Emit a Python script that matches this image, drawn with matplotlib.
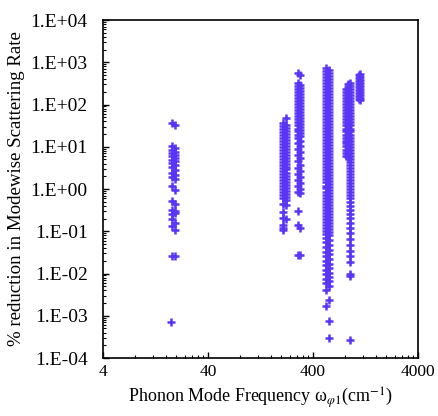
import numpy as np
import matplotlib
matplotlib.use("Agg")
from matplotlib import pyplot as plt
from matplotlib.ticker import FixedLocator, LogLocator, FuncFormatter, NullFormatter

# phonon mode clusters: (frequency in cm^-1, % reduction values)
c1a_freq = 18.3
c1a_y = [36, 10.5, 8.5, 7.0, 5.9, 4.9, 4.1, 3.4, 2.4, 1.9, 1.15, 0.51, 0.32, 0.25, 0.19, 0.13, 0.026]
c1b_freq = 19.4
c1b_y = [33, 9.5, 7.6, 6.3, 5.3, 4.5, 3.7, 2.8, 2.1, 1.74, 0.96, 0.45, 0.30, 0.27, 0.16, 0.108, 0.026]
c1c_freq = 17.6
c1c_y = [0.0007]

c2a_freq = 205
c2a_y = [36, 30.5, 26, 22, 18.7, 15.9, 13.5, 11.5, 9.7, 8.3, 7.0, 6.0, 5.1, 4.3, 3.65, 3.1, 2.63,
         2.23, 1.9, 1.61, 1.37, 1.16, 0.99, 0.84, 0.71, 0.6, 0.45, 0.29, 0.21, 0.14, 0.12, 0.107]
c2b_freq = 220
c2b_y = [47, 33, 28, 24, 20.3, 17.2, 14.6, 12.4, 10.5, 8.9, 7.6, 6.5, 5.5, 4.7, 4.0, 3.4, 2.9,
         2.45, 2.08, 1.76, 1.5, 1.27, 1.08, 0.92, 0.78, 0.66, 0.55, 0.42, 0.2]

c3a_freq = 290
c3a_y = [550, 320, 270, 230, 195, 166, 141, 120, 102, 86, 73, 62, 53, 45, 38, 32, 27, 23, 19.5,
         16.5, 12, 8.7, 6.3, 4.5, 3.2, 2.3, 1.65, 1.2, 0.85, 0.3, 0.14, 0.027]
c3b_freq = 300
c3b_y = [500, 295, 250, 212, 180, 153, 130, 110, 94, 80, 68, 57, 49, 41, 35, 29.5, 25, 21, 18,
         14, 10.2, 7.4, 5.3, 3.8, 2.7, 1.95, 1.4, 1.0, 0.8, 0.12, 0.028]

c4a_freq = 535
c4a_y = [720, 611, 519, 440, 374, 317, 269, 229, 194, 165, 140, 119, 101, 85.7, 72.7, 61.7, 52.4,
         44.5, 37.8, 32.1, 27.2, 23.1, 19.6, 16.6, 14.1, 12.0, 10.2, 8.65, 7.34, 6.23, 5.29, 4.49,
         3.81, 3.24, 2.75, 2.33, 1.98, 1.68, 1.43, 1.21, 1.03, 0.873, 0.741, 0.629, 0.534, 0.453,
         0.385, 0.327, 0.277, 0.235, 0.2, 0.17, 0.144, 0.122, 0.104, 0.088, 0.07, 0.055, 0.042,
         0.033, 0.026, 0.02, 0.016, 0.012, 0.0095, 0.0075, 0.006, 0.0041, 0.0017]
c4b_freq = 570
c4b_y = [650, 560, 475, 405, 345, 292, 248, 210, 178, 152, 129, 109, 93, 79, 67, 57, 48, 41, 35,
         29.6, 25.1, 21.3, 18.1, 15.3, 13.0, 11.0, 9.4, 8.0, 6.8, 5.75, 4.9, 4.15, 3.52, 2.99,
         2.54, 2.15, 1.83, 1.55, 1.32, 1.12, 0.95, 0.81, 0.68, 0.58, 0.49, 0.42, 0.355, 0.3,
         0.255, 0.217, 0.184, 0.156, 0.133, 0.113, 0.096, 0.08, 0.062, 0.048, 0.037, 0.029, 0.022,
         0.017, 0.0135, 0.0105, 0.0082, 0.0065, 0.0052, 0.0023, 0.00074, 0.00029]

c5a_freq = 825
c5a_y = [230, 195, 166, 141, 120, 102, 86, 73, 62, 53, 45, 38, 32, 27, 23, 19.5, 16.5, 14, 12,
         10.2, 8.6, 7.3, 6.2]
c5b_freq = 870
c5b_y = [300, 255, 215, 183, 155, 132, 112, 95, 80, 68, 58, 49, 42, 35.5, 30, 25.5, 21.6, 18.3,
         15.6, 13.2, 11.2, 9.5, 8.1, 6.9, 5.8]
c5c_freq = 905
c5c_y = [320, 272, 231, 196, 166, 141, 120, 102, 86, 73, 62, 53, 45, 38, 32, 27, 23, 19.5, 16.5,
         14, 11.9, 10.1, 8.6, 7.3, 6.2, 5.2, 4.4, 3.8, 3.2, 2.7, 2.3, 1.95, 1.65, 1.4, 1.19, 1.01,
         0.86, 0.73, 0.62, 0.5, 0.4, 0.32, 0.26, 0.21, 0.16, 0.12, 0.09, 0.065, 0.048, 0.035,
         0.026, 0.019, 0.0095, 0.0085, 0.00027]

c6a_freq = 1090
c6a_y = [500, 425, 360, 305, 260, 220, 187, 159, 135]
c6b_freq = 1130
c6b_y = [540, 460, 390, 330, 280, 238, 202, 171, 145, 128]

columns = [
    (c1a_freq, c1a_y), (c1b_freq, c1b_y), (c1c_freq, c1c_y),
    (c2a_freq, c2a_y), (c2b_freq, c2b_y),
    (c3a_freq, c3a_y), (c3b_freq, c3b_y),
    (c4a_freq, c4a_y), (c4b_freq, c4b_y),
    (c5a_freq, c5a_y), (c5b_freq, c5b_y), (c5c_freq, c5c_y),
    (c6a_freq, c6a_y), (c6b_freq, c6b_y),
]

x_major = [4, 40, 400, 4000]
x_minor = [4 * k * 10 ** n for n in range(3) for k in range(2, 10)]

color = "#5b35f5"


def main():
    plt.rcParams["font.family"] = ["Liberation Serif", "DejaVu Serif"]
    plt.rcParams["mathtext.fontset"] = "stix"

    fig = plt.figure(figsize=(4.38, 4.16), dpi=100)
    ax = fig.add_axes([0.2352, 0.1394, 0.7191, 0.8125])

    for freq, ys in columns:
        ax.plot([freq] * len(ys), ys, linestyle="none", marker="+",
                markersize=6, markeredgewidth=1.8, color=color)

    ax.set_xscale("log")
    ax.set_yscale("log")
    ax.set_xlim(4, 4000)
    ax.set_ylim(1e-4, 1e4)

    ax.xaxis.set_major_locator(FixedLocator(x_major))
    ax.xaxis.set_minor_locator(FixedLocator(x_minor))
    ax.xaxis.set_major_formatter(FuncFormatter(lambda v, p: f"{v:g}"))
    ax.xaxis.set_minor_formatter(NullFormatter())

    ax.yaxis.set_major_locator(LogLocator(base=10, numticks=20))
    ax.yaxis.set_minor_locator(LogLocator(base=10, subs=range(2, 10), numticks=100))
    ax.yaxis.set_major_formatter(FuncFormatter(lambda v, p: f"1.E{int(round(np.log10(v))):+03d}"))
    ax.yaxis.set_minor_formatter(NullFormatter())

    ax.tick_params(axis="both", which="both", direction="in", colors="black")
    ax.tick_params(axis="both", which="major", length=4, width=1)
    ax.tick_params(axis="both", which="minor", length=2.5, width=0.8)
    ax.tick_params(axis="y", which="major", labelsize=14, pad=11)
    ax.tick_params(axis="x", which="major", labelsize=12.5, pad=4)

    for s in ax.spines.values():
        s.set_linewidth(1.2)

    ax.set_xlabel("Phonon Mode Frequency ω$_{\\varphi 1}$(cm$^{-1}$)", fontsize=13, labelpad=4)
    ax.set_ylabel("% reduction in Modewise Scattering Rate", fontsize=13.6, labelpad=4)

    fig.savefig("out.png", dpi=100)


if __name__ == "__main__":
    main()
